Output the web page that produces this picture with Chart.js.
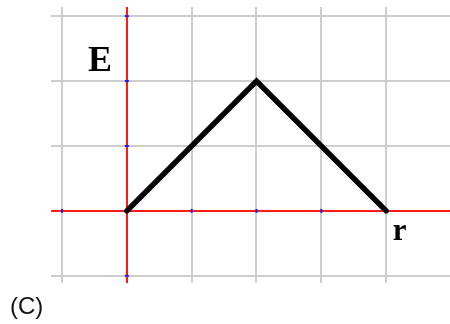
<!DOCTYPE html>
<html>
<head>
<meta charset="utf-8">
<style>
  html, body { margin: 0; padding: 0; background: #fff; }
  #wrap { width: 450px; height: 324px; position: relative; }
</style>
</head>
<body>
<div id="wrap"><canvas id="graph"></canvas></div>

<script src="https://cdn.jsdelivr.net/npm/chart.js"></script>
<script>
  // E(r) graph: rises from r=0 to a peak at r=2, back to zero at r=4
  const rValues = [0, 2, 4];
  const eValues = [0, 2, 0];
  const xTicks = [-1, 0, 1, 2, 3, 4, 5];
  const yTicks = [-1, 0, 1, 2, 3];
  const panelLabel = '(C)';

  const GRID = '#cdcdcd';
  const AXIS = '#ff1a1a';

  // text drawn in data coordinates
  const annotations = [
    { text: 'E', x: -0.6, y: 2.15, font: 'bold 36px "Liberation Serif", "DejaVu Serif", serif' },
    { text: 'r', x: 4.1, y: -0.45, font: 'bold 31px "Liberation Serif", "DejaVu Serif", serif' }
  ];

  const extras = {
    id: 'extras',
    beforeDatasetsDraw(chart) {
      const { ctx, scales: { x, y } } = chart;
      const x0 = x.getPixelForValue(0);
      const y0 = y.getPixelForValue(0);
      ctx.save();
      ctx.fillStyle = '#1a1aff';
      xTicks.forEach(v => {
        const px = x.getPixelForValue(v);
        ctx.fillRect(px - 1, y0 - 2, 2, 4);
      });
      yTicks.forEach(v => {
        const py = y.getPixelForValue(v);
        ctx.fillRect(x0 - 2, py - 1, 4, 2);
      });
      ctx.restore();
    },
    afterDraw(chart) {
      const { ctx, scales: { x, y } } = chart;
      ctx.save();
      ctx.fillStyle = '#000';
      ctx.textAlign = 'left';
      ctx.textBaseline = 'alphabetic';
      annotations.forEach(a => {
        ctx.font = a.font;
        ctx.fillText(a.text, x.getPixelForValue(a.x), y.getPixelForValue(a.y));
      });
      ctx.font = '24px "Liberation Sans", Arial, sans-serif';
      ctx.fillStyle = '#111';
      ctx.fillText(panelLabel, 10, 314);
      ctx.restore();
    }
  };

  const gridColor = c => (c.tick && c.tick.value === 0 ? AXIS : GRID);

  new Chart(document.getElementById('graph'), {
    type: 'line',
    data: {
      datasets: [{
        data: rValues.map((r, i) => ({ x: r, y: eValues[i] })),
        borderColor: '#000',
        borderWidth: 5.5,
        borderCapStyle: 'round',
        borderJoinStyle: 'miter',
        pointRadius: 0,
        tension: 0,
        fill: false
      }]
    },
    options: {
      responsive: true,
      maintainAspectRatio: false,
      animation: false,
      layout: { padding: { left: 51, right: 0, top: 7, bottom: 41 } },
      scales: {
        x: {
          type: 'linear',
          min: -1.17,
          max: 4.985,
          afterBuildTicks: s => { s.ticks = xTicks.map(v => ({ value: v })); },
          ticks: { display: false },
          border: { display: false },
          grid: { color: gridColor, lineWidth: 2, drawTicks: false }
        },
        y: {
          type: 'linear',
          min: -1.11,
          max: 3.14,
          afterBuildTicks: s => { s.ticks = yTicks.map(v => ({ value: v })); },
          ticks: { display: false },
          border: { display: false },
          grid: { color: gridColor, lineWidth: 2, drawTicks: false }
        }
      },
      plugins: {
        legend: { display: false },
        tooltip: { enabled: false }
      }
    },
    plugins: [extras]
  });
</script>
</body>
</html>
